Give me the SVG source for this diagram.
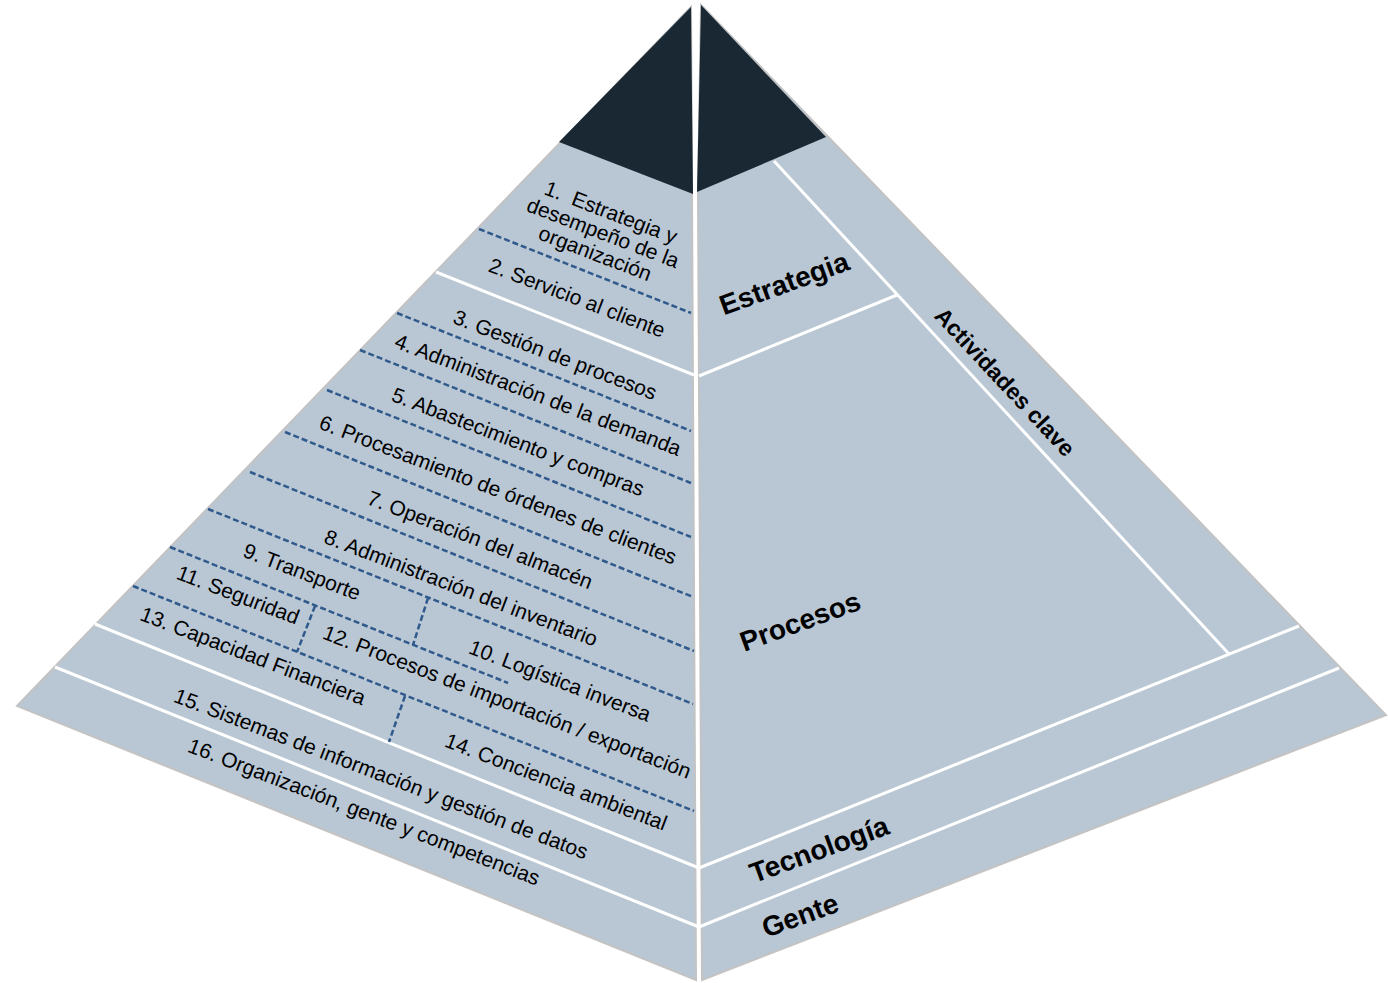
<svg xmlns="http://www.w3.org/2000/svg" width="1388" height="983" viewBox="0 0 1388 983">
<style>
.face{fill:#B9C7D4;stroke:#C3C3C3;stroke-width:2;stroke-linejoin:miter}
.dark{fill:#192833}
.wl{stroke:#FFFFFF;stroke-width:3;fill:none}
.dl{stroke:#30598C;stroke-width:2.5;stroke-dasharray:6 3;fill:none}
.lt{font-family:"Liberation Sans",Arial,sans-serif;font-size:21px;fill:#000;text-anchor:middle}
.bt{font-family:"Liberation Sans",Arial,sans-serif;font-size:28px;font-weight:bold;fill:#000;text-anchor:middle}
</style>
<rect width="1388" height="983" fill="#FFFFFF"/>
<g id="left-face">
<polygon class="face" points="691,7 17,706 696,980 692,194"/>
<polygon class="dark" points="691,7 559,142 693,194"/>
</g>
<g id="right-face">
<polygon class="face" points="701,5 1386,715 702,980 698,192"/>
<polygon class="dark" points="701,5 826,137 697,192"/>
</g>
<g id="connectors">
<line class="wl" x1="436" y1="272" x2="694" y2="375"/>
<line class="wl" x1="95" y1="624" x2="699" y2="868"/>
<line class="wl" x1="55" y1="667" x2="699" y2="927"/>
<line class="wl" x1="699" y1="376" x2="897" y2="295"/>
<line class="wl" x1="699" y1="868" x2="1299" y2="626"/>
<line class="wl" x1="699" y1="927" x2="1339" y2="668"/>
<line class="wl" x1="774" y1="161" x2="1229" y2="654"/>
<line class="dl" x1="479" y1="229" x2="691" y2="313"/>
<line class="dl" x1="397" y1="313" x2="691" y2="431"/>
<line class="dl" x1="360" y1="350" x2="691" y2="483"/>
<line class="dl" x1="327" y1="390" x2="691" y2="537"/>
<line class="dl" x1="285" y1="432" x2="693" y2="597"/>
<line class="dl" x1="250" y1="472" x2="694" y2="651"/>
<line class="dl" x1="208" y1="509" x2="693" y2="704"/>
<line class="dl" x1="170" y1="547" x2="508" y2="683"/>
<line class="dl" x1="133" y1="586" x2="694" y2="811"/>
<line class="dl" x1="428" y1="598" x2="413" y2="645"/>
<line class="dl" x1="315" y1="606" x2="297" y2="652"/>
<line class="dl" x1="405" y1="696" x2="389" y2="742"/>
</g>
<g id="t1"><text class="lt" transform="translate(603,233) rotate(21)" style="white-space:pre"><tspan x="0" y="-15">1.  Estrategia y</tspan><tspan x="0" y="7">desempeño de la</tspan><tspan x="0" y="29">organización</tspan></text></g>
<g id="t2"><text class="lt" transform="translate(577,298) rotate(21)" y="7">2. Servicio al cliente</text></g>
<g id="t3"><text class="lt" transform="translate(555,355) rotate(21)" y="7">3. Gestión de procesos</text></g>
<g id="t4"><text class="lt" transform="translate(538,395) rotate(21)" y="7">4. Administración de la demanda</text></g>
<g id="t5"><text class="lt" transform="translate(518,442) rotate(21)" y="7">5. Abastecimiento y compras</text></g>
<g id="t6"><text class="lt" transform="translate(498,490) rotate(21)" y="7">6. Procesamiento de órdenes de clientes</text></g>
<g id="t7"><text class="lt" transform="translate(480,540) rotate(21)" y="7">7. Operación del almacén</text></g>
<g id="t8"><text class="lt" transform="translate(461,588) rotate(21)" y="7">8. Administración del inventario</text></g>
<g id="t9"><text class="lt" transform="translate(302,572) rotate(21)" y="7">9. Transporte</text></g>
<g id="t10"><text class="lt" transform="translate(560,681) rotate(21)" y="7">10. Logística inversa</text></g>
<g id="t11"><text class="lt" transform="translate(238,595) rotate(21)" y="7">11. Seguridad</text></g>
<g id="t12"><text class="lt" transform="translate(507,702) rotate(21)" y="7">12. Procesos de importación / exportación</text></g>
<g id="t13"><text class="lt" transform="translate(253,656) rotate(21)" y="7">13. Capacidad Financiera</text></g>
<g id="t14"><text class="lt" transform="translate(556,782) rotate(21)" y="7">14. Conciencia ambiental</text></g>
<g id="t15"><text class="lt" transform="translate(381,774) rotate(21)" y="7">15. Sistemas de información y gestión de datos</text></g>
<g id="t16"><text class="lt" transform="translate(364,812) rotate(21)" y="7">16. Organización, gente y competencias</text></g>
<g id="estrategia"><text class="bt" transform="translate(784,283) rotate(-20)" y="10">Estrategia</text></g>
<g id="procesos"><text class="bt" transform="translate(800,621) rotate(-20)" y="10">Procesos</text></g>
<g id="tecnologia"><text class="bt" transform="translate(819,849) rotate(-20)" y="10">Tecnología</text></g>
<g id="gente"><text class="bt" transform="translate(800,915) rotate(-20)" y="10">Gente</text></g>
<g id="actividades"><text class="bt" style="font-size:23px" transform="translate(1005,382) rotate(47)" y="8">Actividades clave</text></g>
</svg>
